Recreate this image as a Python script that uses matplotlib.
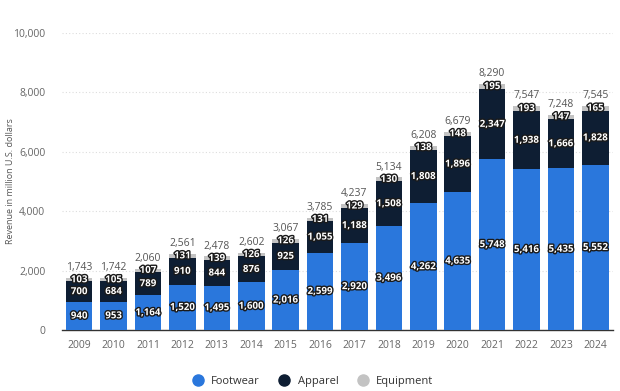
import matplotlib.pyplot as plt
import matplotlib.patheffects as pe
import numpy as np

plt.rcParams['font.family'] = ['Open Sans', 'DejaVu Sans']

# Revenue in million U.S. dollars
years = ['2009', '2010', '2011', '2012', '2013', '2014', '2015', '2016',
         '2017', '2018', '2019', '2020', '2021', '2022', '2023', '2024']
footwear = [940, 953, 1164, 1520, 1495, 1600, 2016, 2599,
            2920, 3496, 4262, 4635, 5748, 5416, 5435, 5552]
apparel = [700, 684, 789, 910, 844, 876, 925, 1055,
           1188, 1508, 1808, 1896, 2347, 1938, 1666, 1828]
equipment = [103, 105, 107, 131, 139, 126, 126, 131,
             129, 130, 138, 148, 195, 193, 147, 165]
totals = [1743, 1742, 2060, 2561, 2478, 2602, 3067, 3785,
          4237, 5134, 6208, 6679, 8290, 7547, 7248, 7545]

c_foot = '#2a77dc'
c_app = '#0e1e33'
c_eq = '#c3c3c3'

fig = plt.figure(figsize=(6.2, 3.91), dpi=100)
ax = fig.add_axes([0.1, 0.156, 0.888, 0.76])

x = np.arange(len(years))
w = 0.77
foot = np.array(footwear)
app = np.array(apparel)
eq = np.array(equipment)

ax.bar(x, foot, w, color=c_foot, label='Footwear', zorder=3)
ax.bar(x, app, w, bottom=foot, color=c_app, label='Apparel', zorder=3)
ax.bar(x, eq, w, bottom=foot + app, color=c_eq, label='Equipment', zorder=3)

stroke = [pe.withStroke(linewidth=2, foreground='#1a1a1a')]
for i in range(len(years)):
    segs = [(foot[i] / 2, foot[i]),
            (foot[i] + app[i] / 2, app[i]),
            (foot[i] + app[i] + eq[i] / 2, eq[i])]
    for ypos, val in segs:
        ax.text(x[i], ypos, f'{val:,}', ha='center', va='center', color='white',
                fontsize=7, fontweight='bold', path_effects=stroke, zorder=5)
    ax.text(x[i], foot[i] + app[i] + eq[i] + 160, f'{totals[i]:,}', ha='center',
            va='bottom', color='#555555', fontsize=7.5, zorder=5)

ax.set_ylim(0, 10000)
ax.set_xlim(-0.5, len(years) - 0.5)
ax.set_yticks(range(0, 10001, 2000))
ax.set_yticklabels([f'{v:,}' for v in range(0, 10001, 2000)])
ax.set_xticks(x)
ax.set_xticklabels(years)
ax.tick_params(axis='both', length=0, labelsize=7.5, colors='#666666')
ax.tick_params(axis='x', pad=7)
ax.tick_params(axis='y', pad=12)
ax.grid(axis='y', color='#dddddd', linestyle=(0, (1, 2)), linewidth=0.8, zorder=0)
for s in ['top', 'right', 'left']:
    ax.spines[s].set_visible(False)
ax.spines['bottom'].set_color('#333333')
ax.spines['bottom'].set_linewidth(1)
ax.set_ylabel('Revenue in million U.S. dollars', fontsize=6.5, color='#555555')
ax.yaxis.set_label_coords(-0.085, 0.5)

handles = [plt.Line2D([], [], marker='o', linestyle='', markersize=8, color=c)
           for c in [c_foot, c_app, c_eq]]
fig.legend(handles, ['Footwear', 'Apparel', 'Equipment'], loc='center',
           bbox_to_anchor=(0.5, 0.025), ncol=3, frameon=False, fontsize=8,
           handletextpad=0.2, columnspacing=1.2, labelcolor='#333333')

fig.savefig('out.png', dpi=100)
